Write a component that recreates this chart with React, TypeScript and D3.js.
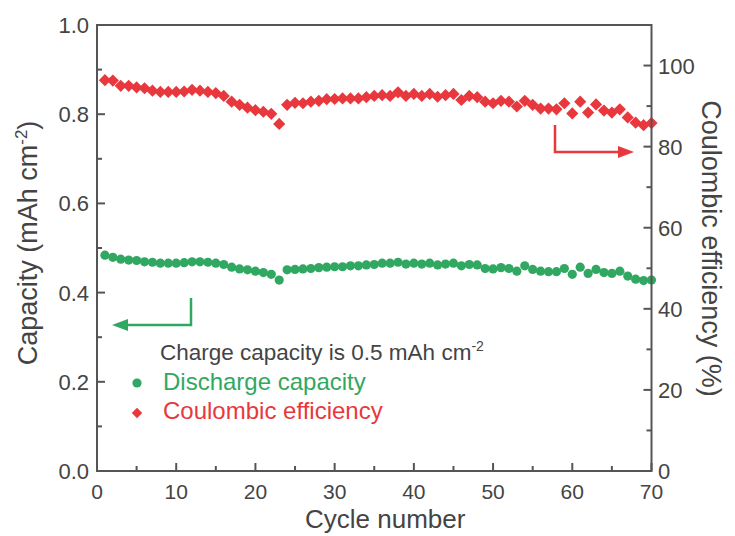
import React from "react";
import * as d3 from "d3";

const cycles: number[] = Array.from({ length: 70 }, (_, i) => i + 1);

const dischargeCapacity: number[] = [
  0.484, 0.479, 0.475, 0.473, 0.472, 0.469, 0.468, 0.466, 0.466, 0.466,
  0.467, 0.469, 0.469, 0.468, 0.466, 0.463, 0.457, 0.453, 0.451, 0.448,
  0.445, 0.441, 0.428, 0.451, 0.452, 0.453, 0.454, 0.456, 0.457, 0.458,
  0.458, 0.46, 0.46, 0.462, 0.463, 0.466, 0.466, 0.468, 0.464, 0.466,
  0.464, 0.466, 0.462, 0.464, 0.466, 0.46, 0.463, 0.462, 0.454, 0.453,
  0.456, 0.454, 0.448, 0.46, 0.452, 0.448, 0.447, 0.447, 0.454, 0.441,
  0.457, 0.443, 0.452, 0.445, 0.443, 0.448, 0.437, 0.43, 0.427, 0.428,
];

const coulombicEfficiency: number[] = [
  96.4, 96.3, 95.0, 95.0, 94.6, 94.4, 93.8, 93.5, 93.5, 93.5,
  93.6, 94.0, 93.8, 93.5, 93.2, 92.5, 91.1, 90.3, 89.6, 89.0,
  88.6, 88.1, 85.6, 90.3, 90.8, 90.7, 91.1, 91.3, 91.7, 91.75,
  91.9, 91.9, 91.9, 92.2, 92.5, 92.7, 92.5, 93.4, 92.5, 93.0,
  92.5, 93.0, 92.3, 92.7, 93.0, 91.5, 92.5, 92.2, 91.1, 90.7,
  91.3, 91.1, 89.9, 91.3, 90.3, 89.4, 89.4, 89.2, 90.7, 88.2,
  91.1, 88.4, 90.4, 88.9, 88.4, 89.2, 87.2, 85.9, 85.3, 85.8,
];

const xTicks: number[] = [0, 10, 20, 30, 40, 50, 60, 70];
const xMinor: number[] = [5, 15, 25, 35, 45, 55, 65];
const yLeftTicks: number[] = [0, 0.2, 0.4, 0.6, 0.8, 1.0];
const yLeftMinor: number[] = [0.1, 0.3, 0.5, 0.7, 0.9];
const yRightTicks: number[] = [0, 20, 40, 60, 80, 100];
const yRightMinor: number[] = [10, 30, 50, 70, 90];

const GREEN = "#31a862";
const RED = "#e8383d";
const AXIS = "#555555";
const TEXT = "#444444";
const FONT = "'Liberation Sans', Arial, sans-serif";

export default function App() {
  const W = 735, H = 536;
  const left = 97, right = 651.5, top = 25, bottom = 471;
  const x = d3.scaleLinear().domain([0, 70]).range([left, right]);
  const yL = d3.scaleLinear().domain([0, 1]).range([bottom, top]);
  const yR = d3.scaleLinear().domain([0, 110]).range([bottom, top]);
  const diamond = d3.symbol().type(d3.symbolDiamond2).size(95)();
  const legendDiamond = d3.symbol().type(d3.symbolDiamond2).size(70)();

  const major = 8, minor = 5;

  return (
    <svg width={W} height={H} style={{ position: "absolute", left: 0, top: 0, background: "#fff" }} fontFamily={FONT}>
      <rect x={0} y={0} width={W} height={H} fill="#fff" />
      {/* data */}
      {cycles.map((c, i) => (
        <path key={"r" + i} d={diamond!} transform={`translate(${x(c)},${yR(coulombicEfficiency[i])})`} fill={RED} />
      ))}
      {cycles.map((c, i) => (
        <circle key={"g" + i} cx={x(c)} cy={yL(dischargeCapacity[i])} r={4.6} fill={GREEN} />
      ))}

      {/* frame */}
      <rect x={left} y={top} width={right - left} height={bottom - top} fill="none" stroke={AXIS} strokeWidth={2} />

      {/* x ticks */}
      {xTicks.map((t) => (
        <g key={"xt" + t}>
          <line x1={x(t)} x2={x(t)} y1={bottom} y2={bottom - major} stroke={AXIS} strokeWidth={2} />
          <text x={x(t)} y={499} textAnchor="middle" fontSize={21} fill={TEXT}>{t}</text>
        </g>
      ))}
      {xMinor.map((t) => (
        <line key={"xm" + t} x1={x(t)} x2={x(t)} y1={bottom} y2={bottom - minor} stroke={AXIS} strokeWidth={2} />
      ))}

      {/* left y ticks */}
      {yLeftTicks.map((t) => (
        <g key={"yl" + t}>
          <line x1={left} x2={left + major} y1={yL(t)} y2={yL(t)} stroke={AXIS} strokeWidth={2} />
          <text x={89} y={yL(t) + 8} textAnchor="end" fontSize={22} fill={TEXT}>{t.toFixed(1)}</text>
        </g>
      ))}
      {yLeftMinor.map((t) => (
        <line key={"ylm" + t} x1={left} x2={left + minor} y1={yL(t)} y2={yL(t)} stroke={AXIS} strokeWidth={2} />
      ))}

      {/* right y ticks */}
      {yRightTicks.map((t) => (
        <g key={"yr" + t}>
          <line x1={right} x2={right - major} y1={yR(t)} y2={yR(t)} stroke={AXIS} strokeWidth={2} />
          <text x={658} y={yR(t) + 8} textAnchor="start" fontSize={22} fill={TEXT}>{t}</text>
        </g>
      ))}
      {yRightMinor.map((t) => (
        <line key={"yrm" + t} x1={right} x2={right - minor} y1={yR(t)} y2={yR(t)} stroke={AXIS} strokeWidth={2} />
      ))}

      {/* axis titles */}
      <text x={(left + right) / 2 + 11} y={528} textAnchor="middle" fontSize={26} fill={TEXT}>Cycle number</text>
      <text transform={`translate(37,243) rotate(-90)`} textAnchor="middle" fontSize={27} fill={TEXT}>
        Capacity (mAh cm<tspan dy={-10} fontSize={17}>-2</tspan><tspan dy={10}>)</tspan>
      </text>
      <text transform={`translate(702,248.5) rotate(90)`} textAnchor="middle" fontSize={27} fill={TEXT}>
        Coulombic efficiency (%)
      </text>

      {/* arrows */}
      <polyline points={`191,298 191,325 126,325`} fill="none" stroke={GREEN} strokeWidth={2.5} />
      <path d="M112,325 L128,319 L128,331 Z" fill={GREEN} />
      <polyline points={`555,125 555,152 620,152`} fill="none" stroke={RED} strokeWidth={2.5} />
      <path d="M634,152 L618,146 L618,158 Z" fill={RED} />

      {/* legend */}
      <text x={160} y={360} fontSize={22.5} fill={TEXT}>
        Charge capacity is 0.5 mAh cm<tspan dy={-9} fontSize={14}>-2</tspan>
      </text>
      <circle cx={137} cy={383} r={4.6} fill={GREEN} />
      <text x={163} y={390} fontSize={24} fill={GREEN}>Discharge capacity</text>
      <path d={legendDiamond!} transform="translate(137,413)" fill={RED} />
      <text x={163} y={419} fontSize={24} fill={RED}>Coulombic efficiency</text>
    </svg>
  );
}
